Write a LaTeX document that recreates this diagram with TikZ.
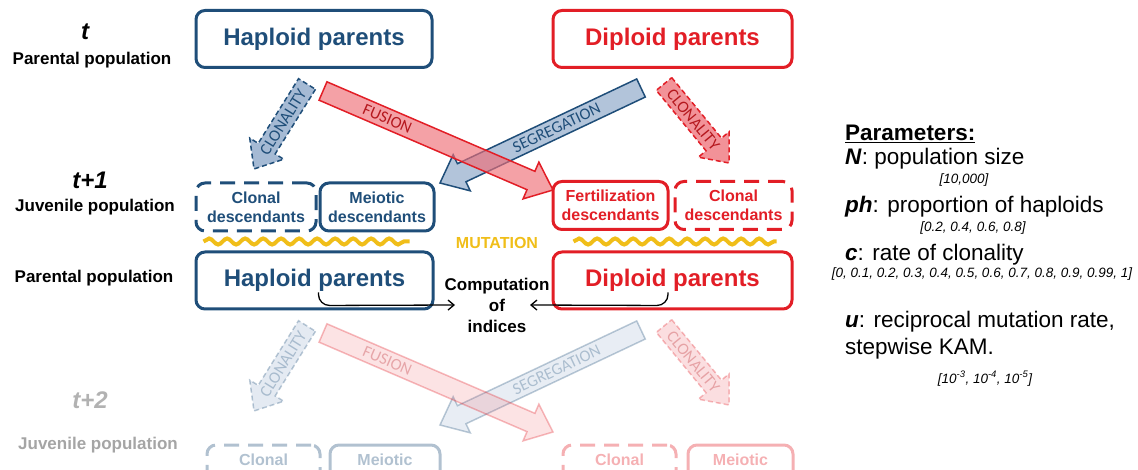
\documentclass[tikz,border=0pt]{standalone}
\usepackage{fontspec}
\setmainfont{Liberation Sans}
\newfontfamily\arrowfont{Carlito}
\usetikzlibrary{positioning, calc, arrows.meta, decorations.pathmorphing}

\definecolor{hapblue}{RGB}{31,78,121}
\definecolor{diplred}{RGB}{226,30,38}
\definecolor{hapfill}{RGB}{165,186,212}
\definecolor{dipfill}{RGB}{242,146,152}
\definecolor{fusfill}{RGB}{238,110,118}
\definecolor{mutyellow}{RGB}{240,190,25}
\definecolor{fadegray}{RGB}{165,165,165}

\tikzset{
  parentbox/.style={rectangle, rounded corners=9pt, line width=3pt, minimum height=57pt, font=\fontsize{24}{28}\selectfont\bfseries},
  juvbox/.style={rectangle, rounded corners=9pt, line width=3pt, minimum height=48pt, align=center, inner sep=2pt, font=\fontsize{16}{19}\selectfont\bfseries},
  clonbox/.style={juvbox, dash pattern=on 15pt off 9pt},
  steplabel/.style={font=\fontsize{17}{21}\selectfont\bfseries},
  timelabel/.style={font=\fontsize{24}{28}\selectfont\bfseries\itshape},
  arrowlabel/.style={font=\arrowfont\fontsize{16.5}{18}\selectfont, inner sep=0pt},
  mutwave/.style={mutyellow, line width=4pt, decorate, decoration={snake, amplitude=3pt, segment length=18pt}},
  paramtext/.style={anchor=base west, inner sep=0pt, font=\fontsize{22.5}{26}\selectfont},
  paramrange/.style={anchor=base, inner sep=0pt, font=\fontsize{13.5}{16}\selectfont\itshape},
  hook/.style={line width=1.3pt, rounded corners=11pt, -{Straight Barb[length=6pt,width=10pt]}}
}

% broad arrow: style, text colour, start, tip, label pos, label
\newcommand{\fatarrow}[6]{
  \coordinate (#3-b) at ($(#4)!24pt!(#3)$);
  \draw[#1] ($(#3)!10pt!90:(#4)$) -- ($(#3-b)!10pt!-90:(#3)$) -- ($(#3-b)!20pt!-90:(#3)$) -- (#4)
    -- ($(#3-b)!20pt!90:(#3)$) -- ($(#3-b)!10pt!90:(#3)$) -- ($(#3)!10pt!-90:(#4)$) -- cycle;
  \path (#3) -- (#4) node[arrowlabel, sloped, text=#2, pos=#5] (#3-l) {#6};
}

\begin{document}
\begin{tikzpicture}[x=1pt, y=-1pt]
    \useasboundingbox (0,0) rectangle (1138,470);
    \clip (0,0) rectangle (1138,470);

    % Generaciones (columna izquierda)
    \node[timelabel] (gT0) at (85,32) {t};
    \node[steplabel] (gP0) at (92,60) {Parental population};
    \node[timelabel] (gT1) at (90,180) {t+1};
    \node[steplabel] (gJ1) at (95,207) {Juvenile population};
    \node[steplabel] (gP1) at (94,278) {Parental population};
    \node[timelabel, text=fadegray!85] (gT2) at (90,400) {t+2};
    \node[steplabel, text=fadegray] (gJ2) at (98,445) {Juvenile population};

    % Padres (t)
    \node[parentbox, draw=hapblue, text=hapblue, minimum width=236pt] (hap1) at (314,39) {Haploid parents};
    \node[parentbox, draw=diplred, text=diplred, minimum width=239pt] (dip1) at (672.5,39) {Diploid parents};

    % Juveniles (t+1)
    \node[clonbox, draw=hapblue, text=hapblue, minimum width=120pt] (clonH1) at (256,207) {Clonal\\descendants};
    \node[juvbox, draw=hapblue, text=hapblue, minimum width=114pt] (meiH1) at (377,207) {Meiotic\\descendants};
    \node[juvbox, draw=diplred, text=diplred, minimum width=115pt] (fertD1) at (610.5,205.5) {Fertilization\\descendants};
    \node[clonbox, draw=diplred, text=diplred, minimum width=117pt] (clonD1) at (733.5,205.5) {Clonal\\descendants};

    % Padres (t+1)
    \node[parentbox, draw=hapblue, text=hapblue, minimum width=237pt] (hap2) at (314.5,280.5) {Haploid parents};
    \node[parentbox, draw=diplred, text=diplred, minimum width=239pt] (dip2) at (672.5,280.5) {Diploid parents};

    % Mutacion
    \draw[mutwave] ($(hap2.north west)+(9,-9)$) -- ($(hap2.north east)+(-25,-9)$);
    \draw[mutwave] ($(dip2.north west)+(22,-9)$) -- ($(dip2.north east)+(-17,-9)$);
    \node[font=\fontsize{16}{18}\selectfont\bfseries, text=mutyellow] (mut) at (497,243) {MUTATION};

    % Calculo de indices
    \node[steplabel, align=center] (comp) at (497,305) {Computation\\of\\indices};
    \coordinate (hapHook) at ($(hap2.center)+(4,12)$);
    \coordinate (dipHook) at ($(dip2.center)+(-4.5,12)$);
    \draw[hook] (hapHook) -- ++(0,13) -- ([xshift=-42pt]comp.center);
    \draw[hook] (dipHook) -- ++(0,13) -- ([xshift=33pt]comp.center);

    % Juveniles (t+2), desvanecidos
    \begin{scope}[opacity=0.35]
        \node[clonbox, draw=hapblue, text=hapblue, minimum width=113pt] (clonH2) at (263.5,469) {Clonal\\\phantom{d}};
        \node[juvbox, draw=hapblue, text=hapblue, minimum width=110pt] (meiH2) at (385,469) {Meiotic\\\phantom{d}};
        \node[clonbox, draw=diplred, text=diplred, minimum width=113pt] (clonD2) at (619.5,469) {Clonal\\\phantom{d}};
        \node[juvbox, draw=diplred, text=diplred, minimum width=105pt] (meiD2) at (740.5,469) {Meiotic\\\phantom{d}};
    \end{scope}

    % Flechas de reproduccion
    \foreach \g/\dy/\op in {1/0/1, 2/242/0.3} {
        \pgfmathsetmacro\segop{0.85*\op}
        \pgfmathsetmacro\fusop{0.65*\op}
        \begin{scope}[opacity=\op]
            \coordinate (cloHs\g) at (307,84+\dy);  \coordinate (cloHt\g) at (254,169+\dy);
            \coordinate (fusHs\g) at (323,91+\dy);  \coordinate (fusHt\g) at (553,190+\dy);
            \coordinate (segDs\g) at (641,88+\dy);  \coordinate (segDt\g) at (440,183+\dy);
            \coordinate (cloDs\g) at (664,84+\dy);  \coordinate (cloDt\g) at (729,163+\dy);

            \fatarrow{draw=hapblue, fill=hapfill, line width=1.5pt, dash pattern=on 5pt off 3pt}{hapblue}{cloHs\g}{cloHt\g}{0.45}{CLONALITY}
            \fatarrow{draw=hapblue, fill=hapfill, line width=1.5pt, fill opacity=\segop}{hapblue}{segDs\g}{segDt\g}{0.42}{SEGREGATION}
            \fatarrow{draw=diplred, fill=fusfill, line width=1.5pt, fill opacity=\fusop}{diplred!80!black}{fusHs\g}{fusHt\g}{0.28}{FUSION}
            \fatarrow{draw=diplred, fill=dipfill, line width=1.5pt, dash pattern=on 5pt off 3pt}{diplred!80!black}{cloDs\g}{cloDt\g}{0.45}{CLONALITY}
        \end{scope}
    }

    % Parametros
    \node[paramtext, font=\fontsize{22.5}{26}\selectfont\bfseries] (parT) at (845,141) {\underline{Parameters:}};
    \node[paramtext] (parN) at (845,165) {\textbf{\textit{N}}: population size};
    \node[paramrange] (rngN) at (964,184) {[10,000]};
    \node[paramtext] (parPh) at (845,213) {\textbf{\textit{ph}}: proportion of haploids};
    \node[paramrange] (rngPh) at (973,232) {[0.2, 0.4, 0.6, 0.8]};
    \node[paramtext] (parC) at (845,261) {\textbf{\textit{c}}: rate of clonality};
    \node[paramrange] (rngC) at (982,278) {[0, 0.1, 0.2, 0.3, 0.4, 0.5, 0.6, 0.7, 0.8, 0.9, 0.99, 1]};
    \node[paramtext] (parU) at (845,328) {\textbf{\textit{u}}: reciprocal mutation rate,};
    \node[paramtext] (parS) at (845,355) {stepwise KAM.};
    \node[paramrange] (rngU) at (985,383) {[10\textsuperscript{-3}, 10\textsuperscript{-4}, 10\textsuperscript{-5}]};

\end{tikzpicture}
\end{document}
